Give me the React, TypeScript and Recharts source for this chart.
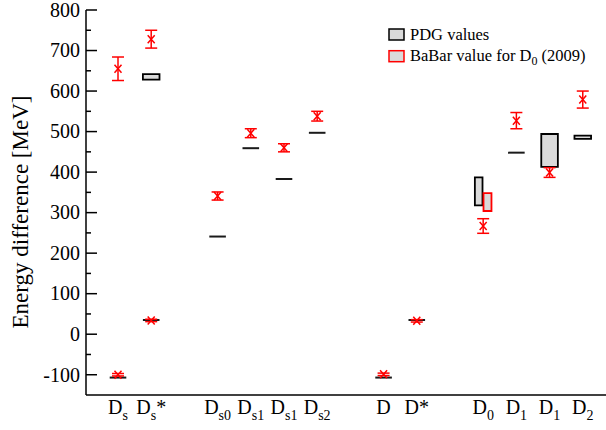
import React from 'react';
import {
  ComposedChart,
  XAxis,
  YAxis,
  Scatter,
  ErrorBar,
  ReferenceLine,
  ReferenceArea,
  Legend,
  Label,
} from 'recharts';

// ---- categories (x positions in category units) and tick labels ----
const catPos = [0, 1, 3, 4, 5, 6, 8, 9, 11, 12, 13, 14];
const catMain = ['D', 'D', 'D', 'D', 'D', 'D', 'D', 'D', 'D', 'D', 'D', 'D'];
const catSub = ['s', 's', 's0', 's1', 's1', 's2', '', '', '0', '1', '1', '2'];
const catTail = ['', '*', '', '', '', '', '', '*', '', '', '', ''];

// ---- y ticks ----
const yTicks = [-100, -50, 0, 50, 100, 150, 200, 250, 300, 350, 400, 450, 500, 550, 600, 650, 700, 750, 800];

// ---- PDG values shown as lines ----
const pdgLinePos = [0, 1, 3, 4, 5, 6, 8, 9, 12];
const pdgLineVal = [-107, 35, 241, 459, 383, 497, -107, 35, 448];

// ---- PDG values shown as boxes ----
const pdgBoxPos = [1, 11, 13, 14];
const pdgBoxLow = [628, 318, 413, 482];
const pdgBoxHigh = [642, 387, 494, 490];

// ---- BaBar value for D0 (2009) ----
const babarPos = [11];
const babarLow = [304];
const babarHigh = [348];

// ---- lattice results (red crosses with error bars) ----
const latPos = [0, 0, 1, 1, 3, 4, 5, 6, 8, 9, 11, 12, 13, 14];
const latVal = [-100, 655, 34, 728, 341, 496, 460, 538, -99, 33, 267, 527, 399, 579];
const latErr = [3, 29, 3, 22, 10, 11, 10, 12, 3, 3, 18, 20, 12, 21];

const latData = latPos.map((x, i) => ({ x, y: latVal[i], err: latErr[i] }));

const FONT = '"Liberation Serif", "Times New Roman", serif';
const RED = '#ff0000';
const BOX_FILL = '#dadada';
const HALF = 0.25;
const X_DOMAIN: [number, number] = [-0.964, 14.73];
const Y_DOMAIN: [number, number] = [-150, 800];

const CrossShape = (props: any) => {
  const { cx, cy } = props;
  if (cx == null || cy == null) return null;
  return (
    <path
      d={`M${cx - 3.5},${cy - 4}L${cx + 3.5},${cy + 4}M${cx - 3.5},${cy + 4}L${cx + 3.5},${cy - 4}`}
      stroke={RED}
      strokeWidth={1.5}
      fill="none"
    />
  );
};

const LeftTick = (props: any) => {
  const { x, y, payload } = props;
  const v = payload.value;
  const major = v % 100 === 0;
  return (
    <g>
      <line x1={x} y1={y} x2={x + (major ? 11 : 5)} y2={y} stroke="#000" strokeWidth={1.5} />
      {major && (
        <text x={x - 6} y={y} dy="0.34em" textAnchor="end" fontSize={20} fontFamily={FONT} fill="#000">
          {v}
        </text>
      )}
    </g>
  );
};

const RightTick = (props: any) => {
  const { x, y, payload } = props;
  const v = payload.value;
  const major = v % 100 === 0;
  return <line x1={x} y1={y} x2={x - (major ? 11 : 5)} y2={y} stroke="#000" strokeWidth={1.5} />;
};

const BottomTick = (props: any) => {
  const { x, y, payload } = props;
  const i = catPos.indexOf(payload.value);
  if (i < 0) return null;
  return (
    <text x={x} y={y + 19} textAnchor="middle" fontSize={20} fontFamily={FONT} fill="#000">
      {catMain[i]}
      {catSub[i] && (
        <tspan fontSize={14} dy={6}>
          {catSub[i]}
        </tspan>
      )}
      {catTail[i] && (
        <tspan fontSize={20} dy={catSub[i] ? -6 : 0}>
          {catTail[i]}
        </tspan>
      )}
    </text>
  );
};

const renderLegend = () => (
  <svg width={230} height={50} style={{ display: 'block', overflow: 'visible' }}>
    <rect x={9} y={9} width={15} height={11} fill={BOX_FILL} stroke="#000" strokeWidth={1.5} />
    <text x={30} y={20} fontSize={16.5} fontFamily={FONT} fill="#000">
      PDG values
    </text>
    <rect x={9} y={30.7} width={15} height={11} fill={BOX_FILL} stroke={RED} strokeWidth={1.5} />
    <text x={30} y={41} fontSize={16.5} fontFamily={FONT} fill="#000">
      BaBar value for D
      <tspan fontSize={12} dy={4}>
        0
      </tspan>
      <tspan dy={-4}> (2009)</tspan>
    </text>
  </svg>
);

export default function App() {
  const hasBabarAt = (p: number) => babarPos.indexOf(p) >= 0;
  return (
    <div style={{ position: 'absolute', left: 0, top: 0, width: 606, height: 430, overflow: 'hidden', background: '#fff' }}>
      <ComposedChart width={620} height={430} margin={{ top: 10, right: 13, bottom: 0, left: 1 }}>
        <XAxis
          dataKey="x"
          type="number"
          domain={X_DOMAIN}
          allowDataOverflow
          ticks={catPos}
          interval={0}
          height={35}
          tickSize={0}
          tickMargin={0}
          tickLine={false}
          axisLine={{ stroke: '#000', strokeWidth: 1.5 }}
          tick={<BottomTick />}
        />
        <XAxis
          xAxisId="top"
          orientation="top"
          type="number"
          domain={X_DOMAIN}
          allowDataOverflow
          height={0}
          tick={false}
          tickLine={false}
          axisLine={{ stroke: '#000', strokeWidth: 1.5 }}
        />
        <YAxis
          dataKey="y"
          type="number"
          domain={Y_DOMAIN}
          allowDataOverflow
          ticks={yTicks}
          interval={0}
          width={85}
          tickSize={0}
          tickMargin={0}
          tickLine={false}
          axisLine={{ stroke: '#000', strokeWidth: 1.5 }}
          tick={<LeftTick />}
        >
          <Label
            content={() => (
              <text
                transform="translate(28,212) rotate(-90)"
                textAnchor="middle"
                fontSize={23}
                fontFamily={FONT}
                fill="#000"
              >
                Energy difference [MeV]
              </text>
            )}
          />
        </YAxis>
        <YAxis
          yAxisId="right"
          orientation="right"
          type="number"
          domain={Y_DOMAIN}
          allowDataOverflow
          ticks={yTicks}
          interval={0}
          width={0}
          tickSize={0}
          tickMargin={0}
          tickLine={false}
          axisLine={{ stroke: '#000', strokeWidth: 1.5 }}
          tick={<RightTick />}
        />

        {pdgBoxPos.map((p, i) => (
          <ReferenceArea
            key={`pb${i}`}
            x1={hasBabarAt(p) ? p - HALF : p - HALF}
            x2={hasBabarAt(p) ? p - 0.02 : p + HALF}
            y1={pdgBoxLow[i]}
            y2={pdgBoxHigh[i]}
            fill={BOX_FILL}
            fillOpacity={1}
            stroke="#000"
            strokeWidth={1.8}
            ifOverflow="visible"
          />
        ))}
        {babarPos.map((p, i) => (
          <ReferenceArea
            key={`bb${i}`}
            x1={p + 0.01}
            x2={p + HALF}
            y1={babarLow[i]}
            y2={babarHigh[i]}
            fill={BOX_FILL}
            fillOpacity={1}
            stroke={RED}
            strokeWidth={1.8}
            ifOverflow="visible"
          />
        ))}
        {pdgLinePos.map((p, i) => (
          <ReferenceLine
            key={`pl${i}`}
            segment={[
              { x: p - HALF, y: pdgLineVal[i] },
              { x: p + HALF, y: pdgLineVal[i] },
            ]}
            stroke="#1a1a1a"
            strokeWidth={2}
            ifOverflow="visible"
          />
        ))}

        <Scatter data={latData} dataKey="y" isAnimationActive={false} shape={<CrossShape />} fill={RED}>
          <ErrorBar dataKey="err" direction="y" width={6} stroke={RED} strokeWidth={1.5} />
        </Scatter>

        <Legend
          layout="vertical"
          align="center"
          verticalAlign="middle"
          content={renderLegend}
          wrapperStyle={{ position: 'absolute', top: 20, left: 380, width: 230, height: 50 }}
        />
      </ComposedChart>
    </div>
  );
}
